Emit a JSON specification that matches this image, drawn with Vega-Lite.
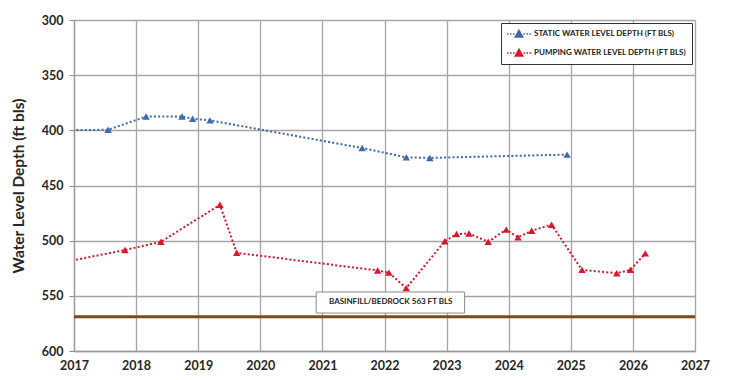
{
  "$schema": "https://vega.github.io/schema/vega-lite/v6.json",
  "autosize": "none",
  "width": 621,
  "height": 331,
  "padding": {"left": 74, "top": 20, "right": 59, "bottom": 29},
  "background": "white",
  "config": {
    "view": {"stroke": null},
    "font": "Lato",
    "axis": {"labelFont": "Lato", "labelFontWeight": "bold", "labelFontSize": 12.5, "labelColor": "#262626", "domainColor": "#9a9a9a", "domainWidth": 1.3, "gridColor": "#a6a6a6", "gridWidth": 1.3}
  },
  "datasets": {
    "obs": [
      {"date": 2016.7, "depth": 400, "series": "Static Water Level Depth (ft bls)"},
      {"date": 2017.55, "depth": 399.5, "series": "Static Water Level Depth (ft bls)"},
      {"date": 2018.16, "depth": 387.5, "series": "Static Water Level Depth (ft bls)"},
      {"date": 2018.74, "depth": 387.5, "series": "Static Water Level Depth (ft bls)"},
      {"date": 2018.91, "depth": 389.5, "series": "Static Water Level Depth (ft bls)"},
      {"date": 2019.19, "depth": 391, "series": "Static Water Level Depth (ft bls)"},
      {"date": 2021.64, "depth": 416, "series": "Static Water Level Depth (ft bls)"},
      {"date": 2022.35, "depth": 424.5, "series": "Static Water Level Depth (ft bls)"},
      {"date": 2022.73, "depth": 425, "series": "Static Water Level Depth (ft bls)"},
      {"date": 2024.94, "depth": 422, "series": "Static Water Level Depth (ft bls)"},
      {"date": 2016.7, "depth": 521, "series": "Pumping Water Level Depth (ft bls)"},
      {"date": 2017.82, "depth": 508.5, "series": "Pumping Water Level Depth (ft bls)"},
      {"date": 2018.4, "depth": 501, "series": "Pumping Water Level Depth (ft bls)"},
      {"date": 2019.35, "depth": 467.5, "series": "Pumping Water Level Depth (ft bls)"},
      {"date": 2019.62, "depth": 511, "series": "Pumping Water Level Depth (ft bls)"},
      {"date": 2021.89, "depth": 527, "series": "Pumping Water Level Depth (ft bls)"},
      {"date": 2022.07, "depth": 529, "series": "Pumping Water Level Depth (ft bls)"},
      {"date": 2022.35, "depth": 543, "series": "Pumping Water Level Depth (ft bls)"},
      {"date": 2022.97, "depth": 500.5, "series": "Pumping Water Level Depth (ft bls)"},
      {"date": 2023.16, "depth": 494, "series": "Pumping Water Level Depth (ft bls)"},
      {"date": 2023.36, "depth": 493.5, "series": "Pumping Water Level Depth (ft bls)"},
      {"date": 2023.67, "depth": 501, "series": "Pumping Water Level Depth (ft bls)"},
      {"date": 2023.96, "depth": 490, "series": "Pumping Water Level Depth (ft bls)"},
      {"date": 2024.15, "depth": 497, "series": "Pumping Water Level Depth (ft bls)"},
      {"date": 2024.37, "depth": 491, "series": "Pumping Water Level Depth (ft bls)"},
      {"date": 2024.69, "depth": 485.5, "series": "Pumping Water Level Depth (ft bls)"},
      {"date": 2025.18, "depth": 526.5, "series": "Pumping Water Level Depth (ft bls)"},
      {"date": 2025.74, "depth": 529.5, "series": "Pumping Water Level Depth (ft bls)"},
      {"date": 2025.96, "depth": 526.5, "series": "Pumping Water Level Depth (ft bls)"},
      {"date": 2026.2, "depth": 511.5, "series": "Pumping Water Level Depth (ft bls)"}
    ],
    "contact": [{"depth": 569}],
    "note": [{"x": 2020.9, "x2": 2023.29, "y": 546.5, "y2": 565.6, "xm": 2022.1, "ym": 556, "label": "BASINFILL/BEDROCK 563 FT BLS"}]
  },
  "layer": [
    {
      "data": {"name": "obs"},
      "mark": {"type": "point", "opacity": 0},
      "encoding": {
        "x": {
          "field": "date", "type": "quantitative",
          "scale": {"domain": [2017, 2027], "nice": false, "zero": false},
          "axis": {
            "title": null,
            "values": [2017, 2017.25, 2017.5, 2017.75, 2018, 2018.25, 2018.5, 2018.75, 2019, 2019.25, 2019.5, 2019.75, 2020, 2020.25, 2020.5, 2020.75, 2021, 2021.25, 2021.5, 2021.75, 2022, 2022.25, 2022.5, 2022.75, 2023, 2023.25, 2023.5, 2023.75, 2024, 2024.25, 2024.5, 2024.75, 2025, 2025.25, 2025.5, 2025.75, 2026, 2026.25, 2026.5, 2026.75, 2027],
            "format": "d",
            "labelExpr": "datum.value % 1 === 0 ? datum.label : ''",
            "grid": true,
            "gridColor": {"condition": {"test": "datum.value % 1 === 0", "value": "#a6a6a6"}, "value": "transparent"},
            "tickColor": {"condition": {"test": "datum.value % 1 === 0", "value": "transparent"}, "value": "#8a8a8a"},
            "tickSize": -4,
            "tickWidth": 1,
            "labelPadding": 12,
            "labelFlush": false,
            "labelOverlap": false
          }
        },
        "y": {
          "field": "depth", "type": "quantitative",
          "scale": {"domain": [300, 600], "reverse": true, "nice": false, "zero": false},
          "axis": {
            "title": "Water Level Depth (ft bls)",
            "values": [300, 350, 400, 450, 500, 550, 600],
            "grid": true,
            "tickSize": 5,
            "tickColor": "#8a8a8a",
            "labelPadding": 6,
            "titleFont": "Lato",
            "titleFontSize": 15.5,
            "titleFontWeight": "bold",
            "titleColor": "#262626",
            "titleX": -56,
            "titleY": 165.5,
            "titleAngle": 270,
            "titleAlign": "center",
            "titleBaseline": "middle"
          }
        }
      }
    },
    {
      "data": {"name": "contact"},
      "mark": {"type": "rule", "color": "#7a4a1c", "strokeWidth": 3},
      "encoding": {"y": {"field": "depth", "type": "quantitative"}}
    },
    {
      "data": {"name": "obs"},
      "mark": {"type": "line", "strokeDash": [2, 2.2], "strokeWidth": 2, "clip": true},
      "encoding": {
        "x": {"field": "date", "type": "quantitative"},
        "y": {"field": "depth", "type": "quantitative"},
        "color": {
          "field": "series", "type": "nominal",
          "scale": {"domain": ["Static Water Level Depth (ft bls)", "Pumping Water Level Depth (ft bls)"], "range": ["#3d6aaa", "#d9182b"]},
          "legend": {
            "title": null,
            "orient": "none",
            "legendX": 427,
            "legendY": 3,
            "direction": "vertical",
            "strokeColor": "#333333",
            "fillColor": "white",
            "padding": 5,
            "rowPadding": 6,
            "labelFont": "Lato",
            "labelFontSize": 8,
            "labelFontWeight": "bold",
            "labelColor": "#222222",
            "labelLimit": 300,
            "labelOffset": 16,
            "labelExpr": "upper(datum.label)",
            "symbolType": "M-1,0L-0.7,0M-0.4,0L-0.1,0M0.2,0L0.5,0M2.3,0L2.6,0M2.9,0L3.2,0M3.5,0L3.8,0M1.4,-0.75L2.15,0.6L0.65,0.6Z",
            "symbolSize": 100,
            "symbolStrokeWidth": 1.5,
            "symbolOpacity": 1,
            "encode": {"symbols": {"update": {"stroke": {"scale": "color", "field": "value"}, "fill": {"scale": "color", "field": "value"}, "strokeDash": {"value": []}}}}
          }
        },
        "detail": {"field": "series"}
      }
    },
    {
      "data": {"name": "obs"},
      "mark": {"type": "point", "shape": "triangle-up", "filled": true, "opacity": 1, "size": 55, "clip": true},
      "encoding": {
        "x": {"field": "date", "type": "quantitative"},
        "y": {"field": "depth", "type": "quantitative"},
        "color": {"field": "series", "type": "nominal"}
      }
    },
    {
      "data": {"name": "note"},
      "mark": {"type": "rect", "fill": "white", "stroke": "#8c8c8c", "strokeWidth": 1},
      "encoding": {
        "x": {"field": "x", "type": "quantitative"},
        "x2": {"field": "x2"},
        "y": {"field": "y", "type": "quantitative"},
        "y2": {"field": "y2"}
      }
    },
    {
      "data": {"name": "note"},
      "mark": {"type": "text", "font": "Lato", "fontSize": 8, "fontWeight": "bold", "color": "#222222", "align": "center", "baseline": "middle"},
      "encoding": {
        "x": {"field": "xm", "type": "quantitative"},
        "y": {"field": "ym", "type": "quantitative"},
        "text": {"field": "label"}
      }
    }
  ]
}
